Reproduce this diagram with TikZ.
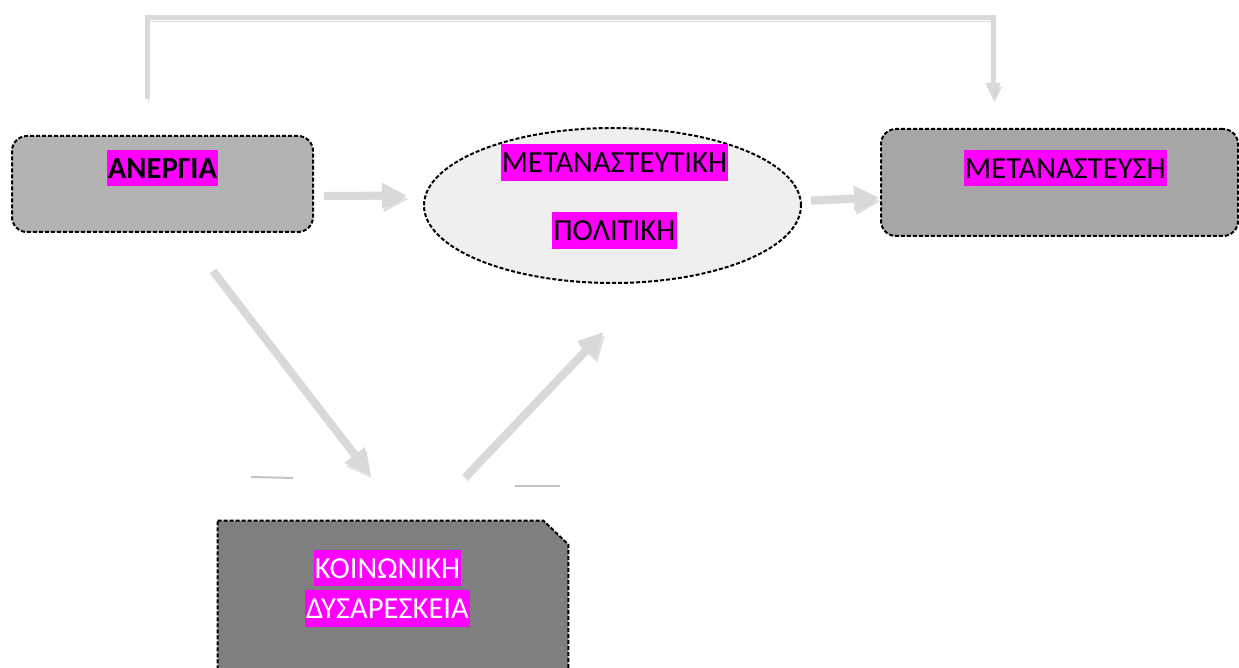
\documentclass[tikz,border=0pt]{standalone}
\usepackage{fontspec}
\setmainfont{Carlito}
\usetikzlibrary{shapes.geometric,arrows.meta,calc,positioning}
\definecolor{hlmagenta}{RGB}{255,0,255}
\definecolor{flowgray}{RGB}{217,217,217}
\definecolor{unempgray}{RGB}{179,179,179}
\definecolor{migrgray}{RGB}{166,166,166}
\definecolor{policygray}{RGB}{239,239,239}
\definecolor{socialgray}{RGB}{127,127,127}
\tikzset{
	x=0.5pt, y=-0.5pt,
	box/.style ={draw, dash pattern=on 2pt off 1pt, line width=1pt},
	hl/.style = {fill=hlmagenta, inner xsep=0.6pt, inner ysep=0pt, text height=14.3pt, text depth=4pt, font=\fontsize{15.3}{18}\selectfont},
	flow/.style = {draw=flowgray, line width=4pt, -{Triangle[length=12.5pt,width=12pt]},
		preaction={draw=black!35, opacity=0.35, transform canvas={shift={(0.8pt,-1.8pt)}}}},
	thinflow/.style = {flow, line width=2.5pt, -{Triangle[length=8pt,width=7pt]}}
}

\begin{document}
\begin{tikzpicture}
    \clip (0,0) rectangle (1239,668);

    \node[box, rectangle, rounded corners=7.5pt, fill=unempgray, minimum width=150.5pt, minimum height=48pt] (unemp) at (162.5,184) {};
    \node[box, ellipse, fill=policygray, minimum width=188.5pt, minimum height=77.5pt] (policy) at (612.5,205.5) {};
    \node[box, rectangle, rounded corners=7.5pt, fill=migrgray, minimum width=178.5pt, minimum height=53.5pt] (migr) at (1059.5,182.5) {};
    \node[rectangle, minimum width=175pt, minimum height=90pt, inner sep=0pt] (social) at (393,611) {};
    \draw[box, fill=socialgray] (social.north west) -- ([xshift=-12.5pt]social.north east)
        -- ([yshift=-12pt]social.north east) -- (social.south east) -- (social.south west) -- cycle;

    % texts
    \node[hl, font=\fontsize{15.3}{18}\selectfont\bfseries] at ([yshift=8pt]unemp.center) {ΑΝΕΡΓΙΑ};
    \node[hl] at ([xshift=1pt, yshift=21.5pt]policy.center) {ΜΕΤΑΝΑΣΤΕΥΤΙΚΗ};
    \node[hl] at ([xshift=1pt, yshift=-12.5pt]policy.center) {ΠΟΛΙΤΙΚΗ};
    \node[hl] at ([xshift=3pt, yshift=7.25pt]migr.center) {ΜΕΤΑΝΑΣΤΕΥΣΗ};
    \node[hl, text=white] at ([xshift=-2.75pt, yshift=-23.75pt]social.north) {ΚΟΙΝΩΝΙΚΗ};
    \node[hl, text=white] at ([xshift=-2.75pt, yshift=-44pt]social.north) {ΔΥΣΑΡΕΣΚΕΙΑ};

    % connectors
    \coordinate (ridge) at (570,18);
    \draw[thinflow] ([xshift=-7.75pt, yshift=18pt]unemp.north) |- (ridge) -| ([xshift=-33.25pt, yshift=14.5pt]migr.north);
    \draw[flow] ([xshift=5pt, yshift=-6pt]unemp.east) -- ([xshift=-8pt, yshift=5pt]policy.west);
    \draw[flow] ([xshift=4.5pt, yshift=2.5pt]policy.east) -- ([xshift=-0.5pt, yshift=-7.5pt]migr.west);
    \draw[flow] ([xshift=25.25pt, yshift=-19pt]unemp.south) -- ([xshift=-11.5pt, yshift=23pt]social.north);
    \draw[flow] ([xshift=36pt, yshift=21.5pt]social.north) -- ([xshift=-4.5pt, yshift=-24pt]policy.south);

    \draw[flowgray!90!black, line width=1pt] (251,477) -- (293,478);
    \draw[flowgray!90!black, line width=1pt] (515,486) -- (560,486);
\end{tikzpicture}
\end{document}
